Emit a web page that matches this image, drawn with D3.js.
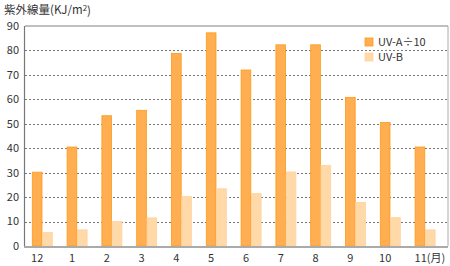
<!DOCTYPE html>
<html>
<head>
<meta charset="utf-8">
<script src="https://cdn.jsdelivr.net/npm/d3@7"></script>
<style>
    body { margin: 0; background: #fff; }
    svg text { font-family: "Noto Sans CJK JP", "Noto Sans", sans-serif; fill: #333; }
</style>
</head>
<body>
<div id="chart"></div>
<script>
// months shown along the bottom, Dec → Nov
const months = ["12", "1", "2", "3", "4", "5", "6", "7", "8", "9", "10", "11"];
const monthLabels = ["12", "1", "2", "3", "4", "5", "6", "7", "8", "9", "10", "11(月)"];
const uvA = [30.2, 40.5, 53.3, 55.5, 78.8, 87.2, 72.0, 82.3, 82.3, 60.8, 50.5, 40.5];
const uvB = [5.5, 6.6, 10.0, 11.5, 20.2, 23.4, 21.4, 30.3, 32.9, 17.8, 11.6, 6.6];
const yTicks = [0, 10, 20, 30, 40, 50, 60, 70, 80, 90];
const seriesNames = ["UV-A÷10", "UV-B"];

const width = 450, height = 266;
const plot = {left: 25, right: 448, top: 26, bottom: 246};

const svg = d3.select("#chart").append("svg")
    .attr("width", width)
    .attr("height", height);

const y = d3.scaleLinear()
    .domain([0, 90])
    .range([plot.bottom, plot.top]);

const x = d3.scaleBand()
    .domain(months)
    .range([29.5, 447.1]);

const sub = d3.scaleBand()
    .domain([0, 1])
    .range([2.8, 22.8])
    .paddingInner(0.06);

// grid
svg.append("g")
    .selectAll("line")
    .data(yTicks.filter(d => d > 0 && d < 90))
    .join("line")
    .attr("x1", plot.left)
    .attr("x2", plot.right)
    .attr("y1", d => Math.round(y(d)) + 0.5)
    .attr("y2", d => Math.round(y(d)) + 0.5)
    .attr("stroke", "#777")
    .attr("stroke-dasharray", "2,2");

// frame
svg.append("line")
    .attr("x1", plot.left).attr("x2", plot.right)
    .attr("y1", plot.top).attr("y2", plot.top)
    .attr("stroke", "#aaa").attr("stroke-width", 1.5);
svg.append("line")
    .attr("x1", plot.right).attr("x2", plot.right)
    .attr("y1", plot.top).attr("y2", plot.bottom)
    .attr("stroke", "#aaa").attr("stroke-width", 1);

const colors = [
    {fill: "#ffae52", stroke: "#ff9a1a"},
    {fill: "#ffd9a8", stroke: "#ffd2a0"}
];

[uvA, uvB].forEach((values, s) => {
    svg.append("g")
        .selectAll("rect")
        .data(values)
        .join("rect")
        .attr("x", (d, i) => x(months[i]) + sub(s))
        .attr("y", d => y(d))
        .attr("width", sub.bandwidth())
        .attr("height", d => plot.bottom - y(d))
        .attr("fill", colors[s].fill)
        .attr("stroke", colors[s].stroke)
        .attr("stroke-width", 0.8);
});

// axes
svg.append("line")
    .attr("x1", plot.left - 0.5).attr("x2", plot.left - 0.5)
    .attr("y1", plot.top).attr("y2", plot.bottom)
    .attr("stroke", "#777").attr("stroke-width", 1.2);
svg.append("line")
    .attr("x1", plot.left - 1).attr("x2", plot.right)
    .attr("y1", plot.bottom + 1).attr("y2", plot.bottom + 1)
    .attr("stroke", "#aaa").attr("stroke-width", 2);

svg.append("g")
    .selectAll("text")
    .data(yTicks)
    .join("text")
    .attr("x", 19)
    .attr("y", d => y(d))
    .attr("dy", "0.35em")
    .attr("text-anchor", "end")
    .attr("font-size", 11)
    .text(d => d);

svg.append("g")
    .selectAll("text")
    .data(monthLabels)
    .join("text")
    .attr("x", (d, i) => x(months[i]) + sub(0) + sub.bandwidth() / 2 + (i === 11 ? 10 : 0))
    .attr("y", 258)
    .attr("dy", "0.35em")
    .attr("text-anchor", "middle")
    .attr("font-size", 11)
    .text(d => d);

// title
const title = svg.append("text")
    .attr("x", 4)
    .attr("y", 10)
    .attr("dy", "0.35em")
    .attr("font-size", 11.5)
    .text("紫外線量(KJ/m");
title.append("tspan").attr("dy", "-0.4em").attr("font-size", 8).text("2");
title.append("tspan").attr("dy", "0.4em").text(")");

// legend
const legend = svg.append("g")
    .selectAll("g")
    .data(seriesNames)
    .join("g")
    .attr("transform", (d, i) => `translate(365,${38 + i * 15})`);
legend.append("rect")
    .attr("width", 8).attr("height", 8)
    .attr("fill", (d, i) => colors[i].fill)
    .attr("stroke", (d, i) => colors[i].stroke)
    .attr("stroke-width", 0.8);
legend.append("text")
    .attr("x", 13)
    .attr("y", 4)
    .attr("dy", "0.35em")
    .attr("font-size", 11)
    .text(d => d);
</script>
</body>
</html>
